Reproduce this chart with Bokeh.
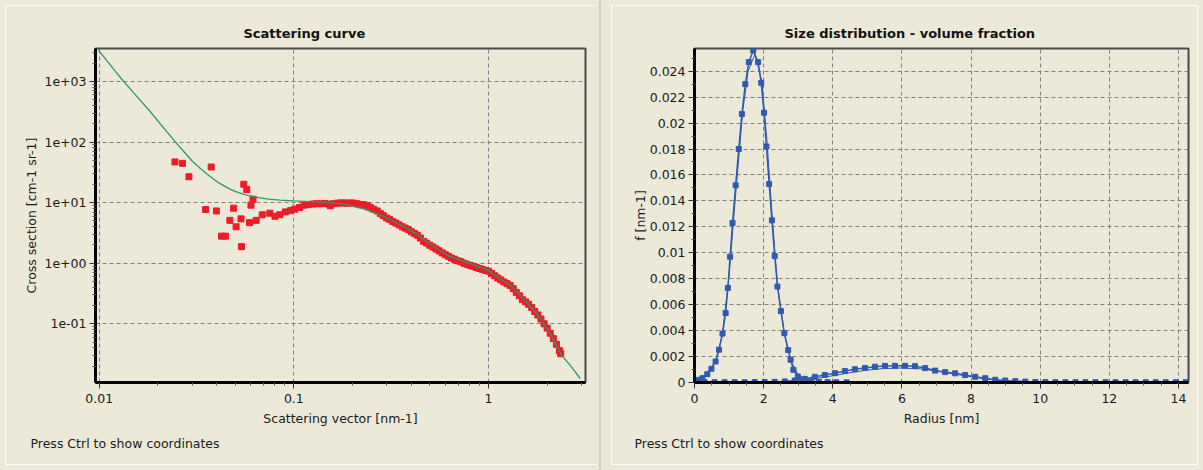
from bokeh.plotting import figure
from bokeh.models import FixedTicker, CustomJSTickFormatter, Div, Title
from bokeh.layouts import row
from bokeh.embed import file_html
from bokeh.resources import INLINE

# ---- scattering curve: measured points and fitted model ----
q_meas = [0.0245, 0.0268, 0.0289, 0.0352, 0.0376, 0.0400, 0.0425, 0.0445, 0.0469, 0.0490,
          0.0505, 0.0535, 0.0538, 0.0553, 0.0573, 0.0592, 0.0602, 0.0617, 0.0640,
          0.0688, 0.0752, 0.0800, 0.0847, 0.0906, 0.0962, 0.101, 0.107, 0.113,
          0.119, 0.125, 0.131, 0.137, 0.144, 0.150, 0.154, 0.160, 0.167, 0.174,
          0.181, 0.188, 0.196, 0.203, 0.211, 0.219, 0.228, 0.238, 0.247, 0.257,
          0.268, 0.278, 0.288, 0.299, 0.310, 0.322, 0.334, 0.347, 0.360, 0.373,
          0.387, 0.401, 0.416, 0.431, 0.447, 0.464, 0.481, 0.499, 0.518, 0.537,
          0.557, 0.578, 0.600, 0.622, 0.645, 0.669, 0.694, 0.720, 0.747, 0.775,
          0.804, 0.834, 0.865, 0.897, 0.930, 0.965, 1.000, 1.037, 1.076, 1.116,
          1.157, 1.200, 1.245, 1.291, 1.339, 1.389, 1.441, 1.494, 1.550, 1.607,
          1.667, 1.729, 1.793, 1.860, 1.929, 2.000, 2.075, 2.152, 2.232, 2.315,
          2.350]
I_meas = [47, 44.6, 26.8, 7.7, 38.8, 7.3, 2.8, 2.8, 5.1, 8.1,
          4.0, 5.4, 1.88, 20.1, 16.4, 4.67, 9.1, 11.4, 5.1,
          6.3, 6.7, 5.96, 6.3, 7.04, 7.4, 7.8, 8.3, 9.1,
          9.3, 9.5, 9.6, 9.6, 9.7, 9.5, 8.9, 9.6, 9.8, 9.9,
          9.9, 9.8, 9.9, 9.8, 9.6, 9.3, 9.3, 8.9, 8.3, 7.8,
          7.3, 6.6, 6.1, 5.6, 5.3, 4.9, 4.6, 4.3, 4.0, 3.8,
          3.6, 3.3, 3.1, 2.9, 2.6, 2.3, 2.15, 1.98, 1.85, 1.72,
          1.60, 1.48, 1.38, 1.30, 1.22, 1.16, 1.10, 1.06, 1.00, 0.96,
          0.92, 0.89, 0.85, 0.82, 0.79, 0.76, 0.74, 0.68, 0.62, 0.57,
          0.53, 0.49, 0.46, 0.43, 0.38, 0.33, 0.29, 0.25, 0.23, 0.21,
          0.185, 0.16, 0.14, 0.12, 0.10, 0.085, 0.070, 0.057, 0.046, 0.036,
          0.032]

q_fit = [0.0099, 0.0110, 0.0122, 0.0133, 0.0150, 0.0167, 0.0182, 0.0205, 0.0228, 0.0244,
         0.0270, 0.0300, 0.0330, 0.0359, 0.0410, 0.0471, 0.0520, 0.0565, 0.0650, 0.0741,
         0.0850, 0.100, 0.120, 0.146, 0.183, 0.230, 0.288, 0.330, 0.380, 0.430,
         0.470, 0.519, 0.622, 0.779, 1.00, 1.15, 1.31, 1.45, 1.605, 1.84,
         2.11, 2.36, 2.65, 2.96]
I_fit = [3300, 2165, 1431, 1020, 654, 442, 326, 203, 135, 104,
         72, 48.7, 37.0, 29.4, 21.4, 16.6, 14.6, 13.4, 12.2, 11.4,
         11.0, 10.7, 10.4, 10.2, 9.4, 7.8, 6.0, 4.8, 3.8, 3.0,
         2.4, 1.93, 1.32, 1.02, 0.76, 0.55, 0.42, 0.30, 0.21, 0.126,
         0.063, 0.031, 0.020, 0.0125]

x_ticks_log = [0.01, 0.1, 1]
x_minor_log = [0.02, 0.03, 0.04, 0.05, 0.06, 0.07, 0.08, 0.09,
               0.2, 0.3, 0.4, 0.5, 0.6, 0.7, 0.8, 0.9, 2, 3]
y_ticks_log = [0.1, 1, 10, 100, 1000]
y_minor_log = [0.02, 0.03, 0.04, 0.05, 0.06, 0.07, 0.08, 0.09,
               0.2, 0.3, 0.4, 0.5, 0.6, 0.7, 0.8, 0.9,
               2, 3, 4, 5, 6, 7, 8, 9, 20, 30, 40, 50, 60, 70, 80, 90,
               200, 300, 400, 500, 600, 700, 800, 900, 2000, 3000]

# ---- size distribution (volume fraction) ----
r_small = [0.00, 0.10, 0.23, 0.37, 0.49, 0.61, 0.71, 0.81, 0.90, 0.965,
           1.03, 1.10, 1.19, 1.28, 1.37, 1.47, 1.57, 1.70, 1.84, 1.93,
           2.01, 2.08, 2.16, 2.24, 2.32, 2.40, 2.50, 2.60, 2.71, 2.78,
           2.86, 2.99, 3.16, 3.36, 3.60, 3.85, 4.10, 4.40]
f_small = [0.0001, 0.0002, 0.00033, 0.00064, 0.00106, 0.00162, 0.00253, 0.00377, 0.00536, 0.00729,
           0.0097, 0.0123, 0.0152, 0.0180, 0.0207, 0.0230, 0.0247, 0.0256, 0.0247, 0.0231,
           0.0208, 0.0182, 0.0153, 0.0125, 0.00975, 0.0074, 0.0055, 0.0038, 0.0025, 0.00176,
           0.00098, 0.00046, 0.0002, 0.0001, 0.00005, 0.00003, 0.00002, 0.00001]
r_small_model = [0.0, 0.3, 0.6, 0.8, 1.0, 1.2, 1.4, 1.55, 1.75, 1.95, 2.1, 2.25,
                 2.4, 2.6, 2.8, 3.0, 3.3, 3.6]
f_small_model = [0.0001, 0.0005, 0.0016, 0.0036, 0.0082, 0.0148, 0.0210, 0.0240, 0.0253, 0.0232,
                 0.0185, 0.0127, 0.0076, 0.0037, 0.0016, 0.0006, 0.0001, 0.0]

r_large = [0.00, 0.29, 0.58, 0.87, 1.16, 1.45, 1.74, 2.03, 2.32, 2.61,
           2.90, 3.19, 3.48, 3.77, 4.06, 4.35, 4.64, 4.93, 5.22, 5.51,
           5.80, 6.09, 6.38, 6.67, 6.96, 7.25, 7.54, 7.83, 8.12, 8.41,
           8.70, 8.99, 9.28, 9.57, 9.86, 10.15, 10.44, 10.73, 11.02, 11.31,
           11.60, 11.89, 12.18, 12.47, 12.76, 13.05, 13.34, 13.63, 13.92, 14.21]
f_large = [0.00002, 0.00002, 0.00002, 0.00002, 0.00002, 0.00002, 0.00003, 0.00004, 0.00005, 0.00008,
           0.00015, 0.00028, 0.00044, 0.00058, 0.00072, 0.00088, 0.00102, 0.00112, 0.00122, 0.00128,
           0.00129, 0.00129, 0.00126, 0.00111, 0.00092, 0.00080, 0.00071, 0.00057, 0.00044, 0.00033,
           0.00021, 0.00015, 0.00010, 0.00007, 0.00004, 0.00003, 0.00002, 0.00002, 0.00002, 0.00002,
           0.00002, 0.00002, 0.00002, 0.00002, 0.00002, 0.00002, 0.00002, 0.00002, 0.00002, 0.00002]
r_large_model = [2.5, 3.0, 3.5, 4.0, 4.5, 5.0, 5.5, 6.0, 6.5, 7.0, 7.5, 8.0, 8.5,
                 9.0, 9.5, 10.0, 10.5]
f_large_model = [0.00003, 0.00012, 0.00030, 0.00052, 0.00076, 0.00096, 0.00108, 0.00112, 0.00106,
                 0.00088, 0.00066, 0.00044, 0.00025, 0.00012, 0.00005, 0.00002, 0.00001]

x_ticks_lin = [0, 2, 4, 6, 8, 10, 12, 14]
x_minor_lin = [0.5, 1, 1.5, 2.5, 3, 3.5, 4.5, 5, 5.5, 6.5, 7, 7.5, 8.5, 9, 9.5,
               10.5, 11, 11.5, 12.5, 13, 13.5]
y_ticks_lin = [0, 0.002, 0.004, 0.006, 0.008, 0.01, 0.012, 0.014, 0.016, 0.018,
               0.02, 0.022, 0.024]
y_minor_lin = [0.001, 0.003, 0.005, 0.007, 0.009, 0.011, 0.013, 0.015, 0.017,
               0.019, 0.021, 0.023, 0.025]

BG = "#ECE9D8"
FONT = "DejaVu Sans"
SIZE = "12.5px"
RED = "#EC1C28"
GREEN = "#2E9A5C"
BLUE = "#3159AE"
W_LEFT, W_SEP, W_RIGHT, H = 599, 7, 597, 470
TOP, BOTTOM = 48, 88


def style(p):
    p.background_fill_color = BG
    p.border_fill_alpha = 0
    p.outline_line_color = "#4a4a4a"
    p.outline_line_width = 2
    for ax in (p.xaxis[0], p.yaxis[0]):
        ax.axis_line_color = "black"
        ax.axis_line_width = 3
        ax.major_tick_line_color = "#333333"
        ax.minor_tick_line_color = "#555555"
        ax.major_tick_out = 6
        ax.major_tick_in = 0
        ax.minor_tick_out = 3
        ax.minor_tick_in = 0
        ax.major_label_text_font = FONT
        ax.major_label_text_font_size = SIZE
        ax.major_label_text_color = "#1a1a1a"
        ax.axis_label_text_font = FONT
        ax.axis_label_text_font_size = SIZE
        ax.axis_label_text_font_style = "normal"
        ax.axis_label_text_color = "#1a1a1a"
    p.xaxis[0].major_label_standoff = 5
    p.xaxis[0].axis_label_standoff = 5
    p.yaxis[0].major_label_standoff = 3
    for g in (p.xgrid[0], p.ygrid[0]):
        g.grid_line_color = "#808080"
        g.grid_line_dash = "4 3"
        g.grid_line_width = 1


def headings(p, title, title_offset, note_offset):
    p.title = Title(text=title, align="left", offset=title_offset, standoff=16, text_font=FONT,
                    text_font_size="13px", text_font_style="bold", text_color="#111111")
    p.add_layout(Title(text="Press Ctrl to show coordinates", align="left", offset=note_offset,
                       text_font=FONT, text_font_size=SIZE, text_font_style="normal",
                       text_color="#1a1a1a"), "below")


# Left: scattering curve on log-log axes
p1 = figure(width=W_LEFT, height=H, x_axis_type="log", y_axis_type="log",
            x_range=(0.00957, 3.15), y_range=(0.01074, 3508),
            output_backend="svg", toolbar_location=None,
            min_border_left=95, min_border_right=14, min_border_top=TOP, min_border_bottom=BOTTOM,
            x_axis_label="Scattering vector [nm-1]", y_axis_label="Cross section [cm-1 sr-1]")
style(p1)
p1.xaxis[0].ticker = FixedTicker(ticks=x_ticks_log, minor_ticks=x_minor_log)
p1.yaxis[0].ticker = FixedTicker(ticks=y_ticks_log, minor_ticks=y_minor_log)
p1.xaxis[0].formatter = CustomJSTickFormatter(code="return tick < 1 ? tick.toString() : tick.toFixed(0);")
p1.yaxis[0].formatter = CustomJSTickFormatter(code="""
const e = Math.round(Math.log10(tick));
const a = Math.abs(e);
return '1e' + (e < 0 ? '-' : '+') + (a < 10 ? '0' + a : a);
""")
p1.yaxis[0].axis_label_standoff = 2
p1.scatter(q_meas, I_meas, marker="square", size=6, fill_color=RED, line_color=RED)
p1.line(q_fit, I_fit, line_color=GREEN, line_width=1.3)
headings(p1, "Scattering curve", 148, -65)

# Right: size distribution
p2 = figure(width=W_RIGHT, height=H, x_range=(0, 14.29), y_range=(0, 0.02575),
            output_backend="svg", toolbar_location=None,
            min_border_left=88, min_border_right=15, min_border_top=TOP, min_border_bottom=BOTTOM,
            x_axis_label="Radius [nm]", y_axis_label="f [nm-1]")
style(p2)
p2.xaxis[0].ticker = FixedTicker(ticks=x_ticks_lin, minor_ticks=x_minor_lin)
p2.yaxis[0].ticker = FixedTicker(ticks=y_ticks_lin, minor_ticks=y_minor_lin)
p2.yaxis[0].formatter = CustomJSTickFormatter(
    code="return tick === 0 ? '0' : parseFloat(tick.toFixed(4)).toString();")
p2.yaxis[0].axis_label_standoff = -1
p2.line(r_large_model, f_large_model, line_color=BLUE, line_width=1)
p2.line(r_large, f_large, line_color=BLUE, line_width=1.5)
p2.scatter(r_large, f_large, marker="square", size=5, fill_color=BLUE, line_color=BLUE)
p2.line(r_small_model, f_small_model, line_color=BLUE, line_width=1)
p2.line(r_small, f_small, line_color=BLUE, line_width=1.5)
p2.scatter(r_small, f_small, marker="square", size=5, fill_color=BLUE, line_color=BLUE)
headings(p2, "Size distribution - volume fraction", 90, -60)

sep = Div(text="", width=W_SEP, height=H, margin=0)

# Window background: beige, with light panel edges and the splitter between panels.
HI = "#FBFAF5"
SPL = "#D3D0C3"
lines = [  # (color, width, height, x, y)
    (HI, 592, 1, 5, 5), (HI, 592, 1, 5, 464), (HI, 1, 460, 5, 5),
    (SPL, 2, H, 599, 0),
    (HI, 587, 1, 611, 5), (HI, 587, 1, 611, 464), (HI, 1, 460, 611, 5), (HI, 1, 460, 1197, 5),
]
bg_styles = {
    "background-color": BG,
    "background-image": ", ".join(f"linear-gradient({c}, {c})" for c, *_ in lines),
    "background-size": ", ".join(f"{w}px {h}px" for _, w, h, _x, _y in lines),
    "background-position": ", ".join(f"{x}px {y}px" for *_, x, y in lines),
    "background-repeat": "no-repeat",
}

layout = row(p1, sep, p2, styles=bg_styles)
open("out.html", "w").write(file_html(layout, INLINE))
